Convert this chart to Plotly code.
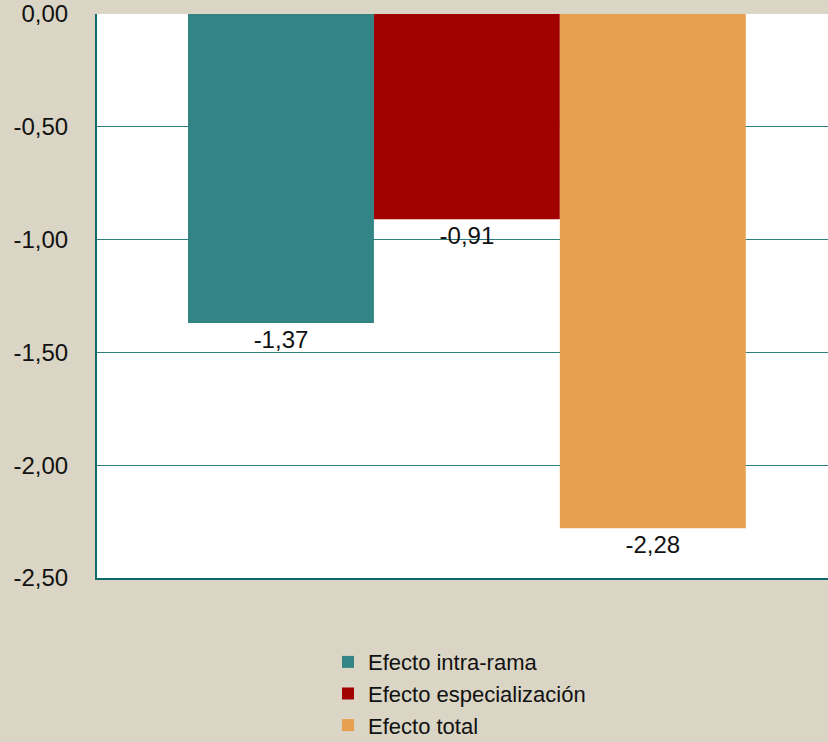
import plotly.graph_objects as go

categories = [""]
series_names = ["Efecto intra-rama", "Efecto especialización", "Efecto total"]
values = [-1.37, -0.91, -2.28]
labels = ["-1,37", "-0,91", "-2,28"]
colors = ["#338585", "#A00000", "#E8A050"]
y_ticks = [0, -0.5, -1.0, -1.5, -2.0, -2.5]
y_ticktext = ["0,00", "-0,50", "-1,00", "-1,50", "-2,00", "-2,50"]

FONT = "Liberation Sans, Arial, sans-serif"

fig = go.Figure()
for name, v, lab, c in zip(series_names, values, labels, colors):
    fig.add_trace(go.Bar(
        x=[0], y=[v], name=name, marker_color=c, marker_line_width=0,
        text=[lab], textposition="outside", cliponaxis=False,
        textfont=dict(size=24, color="#111111", family=FONT),
    ))

fig.update_layout(
    width=828, height=742,
    margin=dict(l=97, r=0, t=14, b=164, autoexpand=False),
    paper_bgcolor="#DAD5C4",
    plot_bgcolor="#FFFFFF",
    barmode="group", bargap=0.237, bargroupgap=0,
    font=dict(family=FONT, size=24, color="#111111"),
    showlegend=True,
    legend=dict(
        orientation="v", x=0.316, xanchor="left",
        yref="container", y=0.136, yanchor="top",
        bgcolor="rgba(0,0,0,0)", font=dict(size=22, family=FONT), tracegroupgap=0,
        traceorder="normal",
    ),
)
fig.update_xaxes(
    range=[-0.506, 0.494], showticklabels=False, showgrid=False,
    zeroline=False, showline=True, linecolor="#0E6A6A", linewidth=2, ticks="",
    automargin=False,
)
fig.update_yaxes(
    range=[-2.5, 0], tickvals=y_ticks, ticktext=y_ticktext,
    showgrid=True, gridcolor="#2E8080", gridwidth=1,
    zeroline=False, showline=True, linecolor="#0E6A6A", linewidth=2,
    ticks="", ticklabelstandoff=22, tickfont=dict(size=24, family=FONT),
    ticklabeloverflow="allow", automargin=False,
)
fig.write_html("out.html")
